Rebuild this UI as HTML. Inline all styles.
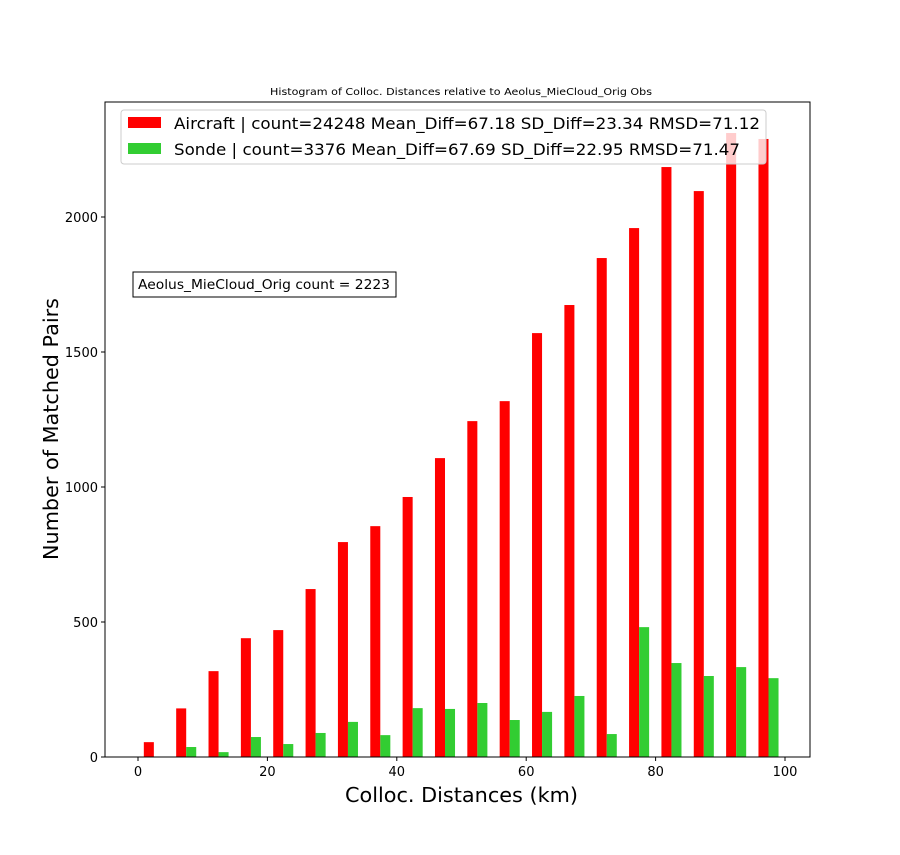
<!DOCTYPE html>
<html><head><meta charset="utf-8"><style>
body{margin:0;background:#fff;font-family:"Liberation Sans","DejaVu Sans",sans-serif}
</style></head><body>
<svg id="chart" width="900" height="850" xmlns="http://www.w3.org/2000/svg" font-family="DejaVu Sans, Liberation Sans, sans-serif">
<rect width="900" height="850" fill="#fff"/>
<text x="270" y="95" font-size="10" textLength="382" lengthAdjust="spacingAndGlyphs">Histogram of Colloc. Distances relative to Aeolus_MieCloud_Orig Obs</text>
<g id="bars"></g>
<rect x="105" y="102" width="705" height="655" fill="none" stroke="#000" stroke-width="1"/>
<g id="axes"></g>
<text x="345" y="802" font-size="20" textLength="233" lengthAdjust="spacingAndGlyphs">Colloc. Distances (km)</text>
<text transform="translate(58,560) rotate(-90)" font-size="20" textLength="262" lengthAdjust="spacingAndGlyphs">Number of Matched Pairs</text>
<g>
<rect x="121" y="110" width="645" height="54" rx="3" fill="#fff" fill-opacity="0.8" stroke="#ccc"/>
<rect x="128" y="117" width="33" height="11" fill="#ff0000"/>
<text x="174" y="129" font-size="16" textLength="586" lengthAdjust="spacingAndGlyphs">Aircraft | count=24248 Mean_Diff=67.18 SD_Diff=23.34 RMSD=71.12</text>
<rect x="128" y="143" width="33" height="11" fill="#32cd32"/>
<text x="174" y="155" font-size="16" textLength="566" lengthAdjust="spacingAndGlyphs">Sonde | count=3376 Mean_Diff=67.69 SD_Diff=22.95 RMSD=71.47</text>
</g>
<rect x="133" y="272" width="263" height="25" fill="#fff" stroke="#000"/>
<text x="138" y="289" font-size="13" textLength="252" lengthAdjust="spacingAndGlyphs">Aeolus_MieCloud_Orig count = 2223</text>
</svg>
<script>
const bins=[0,5,10,15,20,25,30,35,40,45,50,55,60,65,70,75,80,85,90,95];
const aircraft=[55,180,318,440,470,622,796,855,963,1107,1244,1318,1570,1674,1848,1959,2185,2096,2311,2289];
const sonde=[0,37,18,74,48,89,130,81,181,178,200,137,167,226,85,481,348,300,333,292];
const xTicks=[0,20,40,60,80,100];
const yTicks=[0,500,1000,1500,2000];
const NS="http://www.w3.org/2000/svg";
const xs=v=>138+v*6.47;
const ys=v=>757-v*0.27;
const bars=document.getElementById('bars'),axes=document.getElementById('axes');
function mk(tag,attrs,parent){const e=document.createElementNS(NS,tag);for(const k in attrs)e.setAttribute(k,attrs[k]);parent.appendChild(e);return e;}
bins.forEach((b,i)=>{
 let r=mk('rect',{x:xs(b+0.9),y:ys(aircraft[i]),width:xs(b+2.45)-xs(b+0.9),height:ys(0)-ys(aircraft[i]),fill:'#ff0000'},bars);
 
 
 let g=mk('rect',{x:xs(b+2.45),y:ys(sonde[i]),width:xs(b+4.0)-xs(b+2.45),height:ys(0)-ys(sonde[i]),fill:'#32cd32'},bars);
 
 
});
xTicks.forEach(t=>{
 mk('line',{x1:xs(t),x2:xs(t),y1:757,y2:761,stroke:'#000'},axes);
 let tx=mk('text',{x:xs(t),y:776,'font-size':13,'text-anchor':'middle'},axes);tx.textContent=t;
 
 
});
yTicks.forEach(t=>{
 mk('line',{x1:101,x2:105,y1:ys(t),y2:ys(t),stroke:'#000'},axes);
 let tx=mk('text',{x:98,y:ys(t)+5,'font-size':13,'text-anchor':'end'},axes);tx.textContent=t;
 
 
});
</script>
</body></html>
